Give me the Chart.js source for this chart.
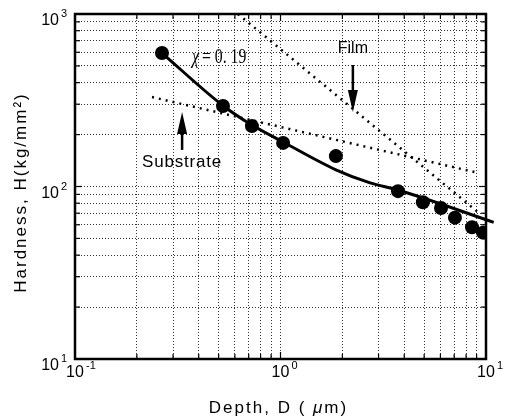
<!DOCTYPE html>
<html>
<head>
<meta charset="utf-8">
<script src="https://cdn.jsdelivr.net/npm/chart.js@4/dist/chart.umd.min.js"></script>
<style>
  html, body { margin: 0; padding: 0; background: #fff; }
  #wrap { width: 505px; height: 419px; }
</style>
</head>
<body>
<div id="wrap"><canvas id="grafiek" width="505" height="419"></canvas></div>
<script>
// meetpunten: diepte D (um) en hardheid H (kg/mm2)
var depth = [0.265, 0.525, 0.726, 1.03, 1.86, 3.73, 4.93, 6.04, 7.06, 8.55, 9.67];
var hardness = [594, 293, 224, 179, 150, 94, 81, 75, 66, 58, 54];

var fitDepth = [0.265, 0.52, 0.726, 1.03, 1.86, 2.73, 3.73, 10.9];
var fitHardness = [594, 297, 227, 181, 125, 105, 95.5, 62];

// stippellijnen voor film en substraat
var filmDepth = [0.621, 9.14];
var filmHardness = [1000, 71];
var substrateDepth = [0.237, 9.14];
var substrateHardness = [330, 120];

// rasterlijnen en labels van de assen
var xGrid = [0.1, 0.2, 0.3, 0.4, 0.5, 0.6, 0.7, 0.8, 0.9, 1, 2, 3, 4, 5, 6, 7, 8, 9, 10];
var yGrid = [10, 20, 30, 40, 50, 60, 70, 80, 90, 100, 200, 300, 400, 500, 600, 700, 800, 900, 1000];
var xDecades = [0.1, 1, 10];
var xExponents = ['-1', '0', '1'];
var yDecades = [10, 100, 1000];
var yExponents = ['1', '2', '3'];

var sans = "'Liberation Sans', Arial, sans-serif";

// plaats van de teksten en pijlen (in data-coordinaten)
var notes = {
    chi: { d: 0.371, h: 520 },
    film: { d: 2.25, h: 627, arrowFrom: 506, arrowTo: 270 },
    substrate: { d: 0.332, h: 139, arrowFrom: 163, arrowTo: 270 }
};

function toPoints(xs, ys) {
    return xs.map(function (v, i) { return { x: v, y: ys[i] }; });
}

function line(ctx, x1, y1, x2, y2) {
    ctx.beginPath();
    ctx.moveTo(x1, y1);
    ctx.lineTo(x2, y2);
    ctx.stroke();
}

function arrow(ctx, x, y0, y1) {
    // pijl van y0 naar y1, punt bij y1
    var dir = y1 > y0 ? 1 : -1;
    ctx.lineWidth = 2.5;
    line(ctx, x, y0, x, y1 - dir * 16);
    ctx.beginPath();
    ctx.moveTo(x, y1);
    ctx.lineTo(x - 5, y1 - dir * 22);
    ctx.lineTo(x + 5, y1 - dir * 22);
    ctx.closePath();
    ctx.fill();
}

var paperPlugin = {
    id: 'paper',
    beforeDraw: function (chart) {
        var ctx = chart.ctx;
        ctx.save();
        ctx.fillStyle = '#fff';
        ctx.fillRect(0, 0, chart.width, chart.height);
        ctx.restore();
    },
    afterDatasetsDraw: function (chart) {
        var ctx = chart.ctx, xs = chart.scales.x, ys = chart.scales.y;
        ctx.save();
        ctx.fillStyle = '#000';
        ctx.strokeStyle = '#000';

        // chi = 0.19 (smalle, hoge letters zoals in het origineel)
        var cx = xs.getPixelForValue(notes.chi.d), cy = ys.getPixelForValue(notes.chi.h);
        ctx.textAlign = 'left';
        ctx.textBaseline = 'alphabetic';
        ctx.save();
        ctx.translate(cx, cy);
        ctx.scale(0.8, 1);
        ctx.font = "italic 20px 'Liberation Serif', serif";
        ctx.fillText('\u03c7', 0, 0);
        ctx.restore();
        ctx.save();
        ctx.translate(cx + 10, cy);
        ctx.scale(0.75, 1);
        ctx.font = "21px 'Liberation Serif', serif";
        ctx.fillText('= 0. 19', 0, 0);
        ctx.restore();

        // Film
        var fx = xs.getPixelForValue(notes.film.d);
        ctx.font = '16px ' + sans;
        ctx.textAlign = 'center';
        ctx.textBaseline = 'middle';
        ctx.fillText('Film', fx, ys.getPixelForValue(notes.film.h));
        arrow(ctx, fx, ys.getPixelForValue(notes.film.arrowFrom), ys.getPixelForValue(notes.film.arrowTo));

        // Substrate
        var sx = xs.getPixelForValue(notes.substrate.d);
        ctx.font = '17px ' + sans;
        ctx.letterSpacing = '0.8px';
        ctx.fillText('Substrate', sx, ys.getPixelForValue(notes.substrate.h));
        ctx.letterSpacing = '0px';
        arrow(ctx, sx, ys.getPixelForValue(notes.substrate.arrowFrom), ys.getPixelForValue(notes.substrate.arrowTo));
        ctx.restore();
    },
    afterDraw: function (chart) {
        var ctx = chart.ctx, a = chart.chartArea, xs = chart.scales.x, ys = chart.scales.y;
        ctx.save();
        ctx.strokeStyle = '#000';
        ctx.fillStyle = '#000';

        // kleine streepjes naar binnen
        ctx.lineWidth = 1.2;
        xGrid.forEach(function (v) {
            var px = xs.getPixelForValue(v);
            var len = xDecades.indexOf(v) >= 0 ? 7 : 5;
            line(ctx, px, a.bottom, px, a.bottom - len);
            line(ctx, px, a.top, px, a.top + len);
        });
        yGrid.forEach(function (v) {
            var py = ys.getPixelForValue(v);
            var len = yDecades.indexOf(v) >= 0 ? 7 : 5;
            line(ctx, a.left, py, a.left + len, py);
            line(ctx, a.right, py, a.right - len, py);
        });

        // kader
        ctx.lineWidth = 2.5;
        ctx.strokeRect(a.left, a.top, a.right - a.left, a.bottom - a.top);

        // labels x-as (10 met exponent)
        ctx.textBaseline = 'alphabetic';
        xDecades.forEach(function (v, i) {
            var px = xs.getPixelForValue(v);
            ctx.font = '16px ' + sans;
            ctx.textAlign = 'center';
            ctx.fillText('10', px, a.bottom + 18);
            ctx.font = '11px ' + sans;
            ctx.textAlign = 'left';
            ctx.fillText(xExponents[i], px + 11, a.bottom + 10);
        });

        // labels y-as
        yDecades.forEach(function (v, i) {
            var py = ys.getPixelForValue(v);
            ctx.font = '16px ' + sans;
            ctx.textAlign = 'right';
            ctx.fillText('10', a.left - 16, py + 11);
            ctx.font = '11px ' + sans;
            ctx.textAlign = 'left';
            ctx.fillText(yExponents[i], a.left - 14, py + 3);
        });

        // astitels
        ctx.font = '17px ' + sans;
        ctx.letterSpacing = '2px';
        ctx.textAlign = 'center';
        ctx.textBaseline = 'middle';
        ctx.save();
        ctx.translate(21, (a.top + a.bottom) / 2 + 6);
        ctx.rotate(-Math.PI / 2);
        ctx.fillText('Hardness, H(kg/mm\u00b2)', 0, 0);
        ctx.restore();

        // x-titel in stukjes, de mu is schuin
        ctx.textAlign = 'left';
        ctx.textBaseline = 'alphabetic';
        var deel1 = 'Depth, D ( ', deel2 = '\u03bc', deel3 = 'm)';
        ctx.font = '17px ' + sans;
        var w1 = ctx.measureText(deel1).width, w3 = ctx.measureText(deel3).width;
        ctx.font = 'italic 17px ' + sans;
        var w2 = ctx.measureText(deel2).width;
        var start = (a.left + a.right) / 2 - 2 - (w1 + w2 + w3) / 2;
        ctx.font = '17px ' + sans;
        ctx.fillText(deel1, start, 413);
        ctx.font = 'italic 17px ' + sans;
        ctx.fillText(deel2, start + w1, 413);
        ctx.font = '17px ' + sans;
        ctx.fillText(deel3, start + w1 + w2, 413);
        ctx.restore();
    }
};

function logAxis(min, max, grid, horizontal) {
    return {
        type: 'logarithmic',
        min: min,
        max: max,
        afterBuildTicks: function (scale) {
            scale.ticks = grid.map(function (v) { return { value: v }; });
        },
        afterFit: function (scale) {
            if (horizontal) { scale.height = 0; } else { scale.width = 0; }
        },
        ticks: { display: false, autoSkip: false },
        grid: { color: '#333', lineWidth: 1, drawTicks: false },
        border: { display: false, dash: [1, 2] },
        title: { display: false }
    };
}

var chart = new Chart(document.getElementById('grafiek'), {
    type: 'line',
    data: {
        datasets: [
            {
                label: 'meetpunten',
                data: toPoints(depth, hardness),
                showLine: false,
                pointRadius: 7,
                pointBackgroundColor: '#000',
                pointBorderWidth: 0
            },
            {
                label: 'fit',
                data: toPoints(fitDepth, fitHardness),
                borderColor: '#000',
                borderWidth: 3,
                pointRadius: 0,
                cubicInterpolationMode: 'monotone',
                clip: false
            },
            {
                label: 'film',
                data: toPoints(filmDepth, filmHardness),
                borderColor: '#000',
                borderWidth: 2.5,
                borderDash: [2, 5],
                pointRadius: 0
            },
            {
                label: 'substrate',
                data: toPoints(substrateDepth, substrateHardness),
                borderColor: '#000',
                borderWidth: 2.5,
                borderDash: [2, 5],
                pointRadius: 0
            }
        ]
    },
    options: {
        responsive: false,
        animation: false,
        layout: { padding: { left: 75, right: 19, top: 14, bottom: 60 } },
        plugins: { legend: { display: false }, tooltip: { enabled: false } },
        scales: {
            x: logAxis(0.1, 10, xGrid, true),
            y: logAxis(10, 1000, yGrid, false)
        }
    },
    plugins: [paperPlugin]
});
</script>
</body>
</html>
